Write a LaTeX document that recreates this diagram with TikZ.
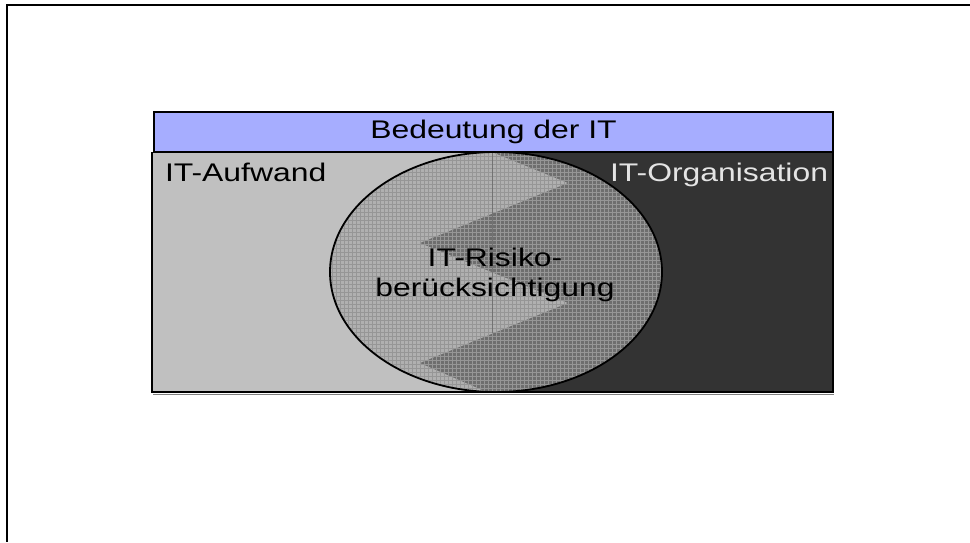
\documentclass[tikz,border=0pt]{standalone}
\usepackage{fontspec}
\setmainfont[FakeStretch=1.25]{Liberation Sans}
\usetikzlibrary{positioning}
\definecolor{headblue}{RGB}{166,173,255}
\definecolor{lightbg}{RGB}{192,192,192}
\definecolor{darkbg}{RGB}{51,51,51}
\definecolor{lightin}{RGB}{176,176,176}
\definecolor{darkin}{RGB}{110,110,110}
\definecolor{gridc}{RGB}{150,150,150}
\definecolor{orgtext}{RGB}{228,228,228}

\begin{document}
\begin{tikzpicture}[x=1pt,y=-1pt]
\tikzstyle{label}=[inner sep=0pt,outer sep=0pt,
font=\fontsize{25.5}{30}\selectfont]
\tikzstyle{header}=[draw=black,fill=headblue,line width=1.5pt,
minimum width=679,minimum height=40,inner sep=0pt,
font=\fontsize{25.5}{30}\selectfont]
\useasboundingbox (0,0) rectangle (970,542);
\draw[line width=2pt] (970,5) -- (7,5) -- (7,542);

\fill[lightbg] (152,152) rectangle (492,392);
\fill[darkbg] (492,152) rectangle (833,392);
\draw[gray,line width=1pt] (153,394) -- (834,394);
\draw[line width=1.5pt] (152,152) -- (152,392) -- (833,392) -- (833,152);

\begin{scope}
\clip (496,272) ellipse [x radius=166, y radius=120];
\fill[lightin] (328,148) rectangle (665,396);
\fill[darkin] (492,148) -- (492,152) -- (568,183) -- (420,243) -- (568,303)
  -- (420,363) -- (496,396) -- (670,396) -- (670,148) -- cycle;
\draw[gridc,line width=0.5pt] (328,148) grid[step=4pt] (665,396);
\draw[black!55,line width=0.7pt] (492,152) -- (492,333);
\end{scope}
\draw[line width=1.8pt] (496,272) ellipse [x radius=166, y radius=120];

\node[header] (head) at (493.5,132) {Bedeutung der IT};
\node[label,anchor=base west] (aufwand) at (165,181) {IT-Aufwand};
\node[label,anchor=base east,text=orgtext] (org) at (828,181) {IT-Organisation};
\node[label,align=center] (risk) at (495,275) {IT-Risiko-\\berücksichtigung};
\end{tikzpicture}
\end{document}
